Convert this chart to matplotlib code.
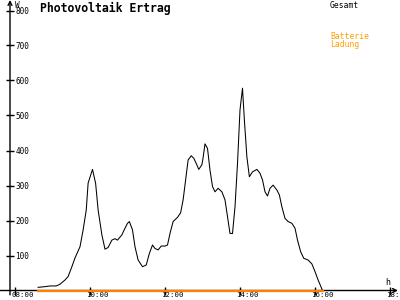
# Photovoltaik Ertrag - Tagesverlauf Gesamt / Batterie Ladung
import matplotlib
matplotlib.use('Agg')
import matplotlib.pyplot as plt
from matplotlib.transforms import ScaledTranslation

# Gesamt (W), 5-min-ish readings
times = ['08:37', '08:48', '08:56', '09:06', '09:12', '09:20', '09:25', '09:31', '09:36', '09:44',
         '09:49', '09:54', '09:57', '10:04', '10:09', '10:13', '10:19', '10:24', '10:29', '10:35',
         '10:40', '10:44', '10:51', '10:56', '11:00', '11:03', '11:08', '11:12', '11:17', '11:24',
         '11:30', '11:35', '11:40', '11:44', '11:49', '11:54', '12:00', '12:04', '12:08', '12:13',
         '12:20', '12:25', '12:29', '12:33', '12:37', '12:42', '12:46', '12:51', '12:54', '12:59',
         '13:01', '13:04', '13:08', '13:12', '13:16', '13:20', '13:25', '13:31', '13:36', '13:40',
         '13:44', '13:48', '13:52', '13:56', '14:00', '14:04', '14:07', '14:11', '14:15', '14:20',
         '14:27', '14:32', '14:36', '14:40', '14:44', '14:48', '14:53', '14:59', '15:03', '15:07',
         '15:12', '15:17', '15:23', '15:28', '15:32', '15:37', '15:42', '15:49', '15:55', '16:00',
         '16:05', '16:12']
gesamt = [9, 11, 13, 13, 18, 30, 40, 68, 93, 125,
          173, 230, 307, 346, 306, 230, 159, 118, 123, 144,
          148, 144, 159, 178, 192, 197, 173, 125, 87, 68,
          73, 106, 130, 120, 116, 127, 127, 130, 163, 197,
          209, 222, 259, 316, 373, 385, 378, 359, 346, 359,
          380, 419, 406, 344, 297, 282, 292, 282, 259, 211,
          163, 163, 239, 363, 516, 578, 487, 382, 325, 339,
          346, 335, 316, 282, 270, 292, 301, 287, 273, 239,
          206, 197, 192, 178, 144, 111, 92, 87, 76, 54,
          30, 0]

# Batterie Ladung stays at 0 the whole time
ladung_times = ['08:37', '16:12']
ladung = [0, 0]

y_ticks = [100, 200, 300, 400, 500, 600, 700, 800]
x_ticks = ['08:00', '10:00', '12:00', '14:00', '16:00', '18:00']


def to_hours(t):
    h, m = t.split(':')
    return int(h) + int(m) / 60


x = [to_hours(t) for t in times]
x_lad = [to_hours(t) for t in ladung_times]

mono = 'DejaVu Sans Mono'
orange_txt = '#ff9f00'
orange_line = '#ff8000'

fig = plt.figure(figsize=(4, 3), dpi=100)
ax = fig.add_axes([10 / 400, 9.5 / 300, 390 / 400, 290.5 / 300])
ax.set_xlim(8 - 5 / 37.5, 8 + 385 / 37.5)
ax.set_ylim(0, 830)

ax.plot(x, gesamt, color='black', lw=0.75, solid_joinstyle='round')
ax.plot(x_lad, ladung, color=orange_line, lw=1.6, zorder=5, clip_on=False)

for s in ax.spines.values():
    s.set_visible(False)

# axes as arrows
ax.annotate('', xy=(0, 1.0), xytext=(0, -0.015), xycoords='axes fraction',
            arrowprops=dict(arrowstyle='->', lw=1, color='black', shrinkA=0, shrinkB=0,
                            mutation_scale=7), annotation_clip=False)
ax.annotate('', xy=(388 / 390, 0), xytext=(-10 / 390, 0), xycoords='axes fraction',
            arrowprops=dict(arrowstyle='->', lw=1, color='black', shrinkA=0, shrinkB=0,
                            mutation_scale=7), annotation_clip=False)

ax.set_yticks(y_ticks)
ax.set_yticklabels([str(v) for v in y_ticks], fontsize=5.5, family=mono)
ax.set_xticks([to_hours(t) for t in x_ticks])
ax.set_xticklabels(x_ticks, fontsize=5.3, family=mono)
ax.tick_params(axis='both', direction='inout', length=6, width=1, color='black')
ax.tick_params(axis='y', pad=-7)
ax.tick_params(axis='x', pad=-1.8)
for lab in ax.get_yticklabels():
    lab.set_horizontalalignment('left')
for lab in ax.get_xticklabels():
    lab.set_horizontalalignment('left')
    lab.set_transform(lab.get_transform() + ScaledTranslation(-4 / 100, 0, fig.dpi_scale_trans))

# unit labels
fig.text(15 / 400, 1 - 0.5 / 300, 'W', fontsize=5.5, family=mono, va='top', ha='left')
fig.text(385 / 400, 1 - 278 / 300, 'h', fontsize=6, family=mono, va='top', ha='left')

# title and legend
fig.text(40 / 400, 1 - 2 / 300, 'Photovoltaik Ertrag', fontsize=8.3, family=mono,
         weight='bold', va='top', ha='left')
fig.text(330 / 400, 1 - 1.5 / 300, 'Gesamt', fontsize=5.8, family=mono, va='top', ha='left')
fig.text(330 / 400, 1 - 32 / 300, 'Batterie', fontsize=5.8, family=mono, va='top', ha='left',
         color=orange_txt)
fig.text(330 / 400, 1 - 40 / 300, 'Ladung', fontsize=5.8, family=mono, va='top', ha='left',
         color=orange_txt)

fig.savefig('out.png', dpi=100)
